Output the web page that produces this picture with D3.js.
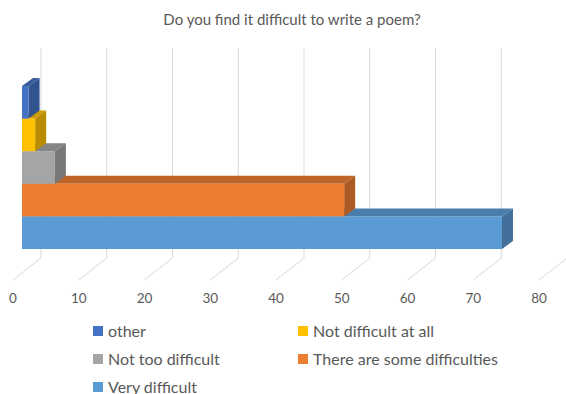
<!DOCTYPE html>
<html>
<head>
<meta charset="utf-8">
<script src="https://cdn.jsdelivr.net/npm/d3@7"></script>
<style>
  body { margin: 0; background: #fff; }
  text { font-family: Lato, "Open Sans", sans-serif; fill: #595959; }
</style>
</head>
<body>
<script>
var width = 566, height = 394;

// data
var series = ["other", "Not difficult at all", "Not too difficult", "There are some difficulties", "Very difficult"];
var values = [1, 2, 5, 49, 73];
var colors = ["#4472C4", "#FFC000", "#A5A5A5", "#ED7D31", "#5B9BD5"];
var ticks = [0, 10, 20, 30, 40, 50, 60, 70, 80];

var data = series.map(function(s, i) {
  return {name: s, value: values[i], color: colors[i]};
});

var svg = d3.select("body").append("svg")
    .attr("width", width)
    .attr("height", height);

// 3d-ish projection: back wall, floor front edge, bar front face
var xWall = d3.scaleLinear().domain([0, 80]).range([41, 567]),
    xFloor = d3.scaleLinear().domain([0, 80]).range([13, 539]),
    xBar = d3.scaleLinear().domain([0, 80]).range([22, 548]);
var yBand = d3.scaleBand().domain(series).range([86, 249]).padding(0);
var depth = {dx: 11, dy: -8};
var wallTop = 48, wallBottom = 258, floorFront = 280;

// title
svg.append("text")
    .attr("x", 292)
    .attr("y", 25)
    .attr("text-anchor", "middle")
    .style("font-size", "15px")
    .text("Do you find it difficult to write a poem?");

// gridlines on wall + floor
var grid = svg.append("g").attr("class", "grid");
ticks.forEach(function(t) {
  grid.append("polyline")
    .attr("points", [
      [xWall(t), wallTop],
      [xWall(t), wallBottom],
      [xFloor(t), floorFront]
    ].join(" "))
    .attr("fill", "none")
    .attr("stroke", "#d9d9d9")
    .attr("stroke-width", 1);
});

// x labels
svg.append("g").selectAll("text")
    .data(ticks)
    .enter()
    .append("text")
    .attr("x", function(d) { return xFloor(d); })
    .attr("y", 303)
    .attr("text-anchor", "middle")
    .style("font-size", "13.5px")
    .text(function(d) { return d; });

// bars, bottom one first so upper bars cover lower tops
var bars = svg.append("g").attr("class", "bars");
data.slice().reverse().forEach(function(d) {
  var x0 = xBar(0), x1 = xBar(d.value);
  var y0 = yBand(d.name), y1 = y0 + yBand.bandwidth();
  var c = d3.color(d.color);
  var g = bars.append("g");
  // top face
  g.append("polygon")
    .attr("points", [[x0, y0], [x0 + depth.dx, y0 + depth.dy], [x1 + depth.dx, y0 + depth.dy], [x1, y0]].join(" "))
    .attr("fill", c.darker(0.6));
  // side face
  g.append("polygon")
    .attr("points", [[x1, y0], [x1 + depth.dx, y0 + depth.dy], [x1 + depth.dx, y1 + depth.dy], [x1, y1]].join(" "))
    .attr("fill", c.darker(0.9));
  // front face
  g.append("rect")
    .attr("x", x0)
    .attr("y", y0)
    .attr("width", x1 - x0)
    .attr("height", y1 - y0)
    .attr("fill", d.color);
});

// legend
var legendPos = [[93, 331], [298, 331], [93, 359], [298, 359], [93, 387]];
var legend = svg.append("g").attr("class", "legend");
data.forEach(function(d, i) {
  var p = legendPos[i];
  legend.append("rect")
    .attr("x", p[0])
    .attr("y", p[1] - 5)
    .attr("width", 10)
    .attr("height", 10)
    .attr("fill", d.color);
  legend.append("text")
    .attr("x", p[0] + 15)
    .attr("y", p[1] + 5.5)
    .style("font-size", "16px")
    .text(d.name);
});
</script>
</body>
</html>
